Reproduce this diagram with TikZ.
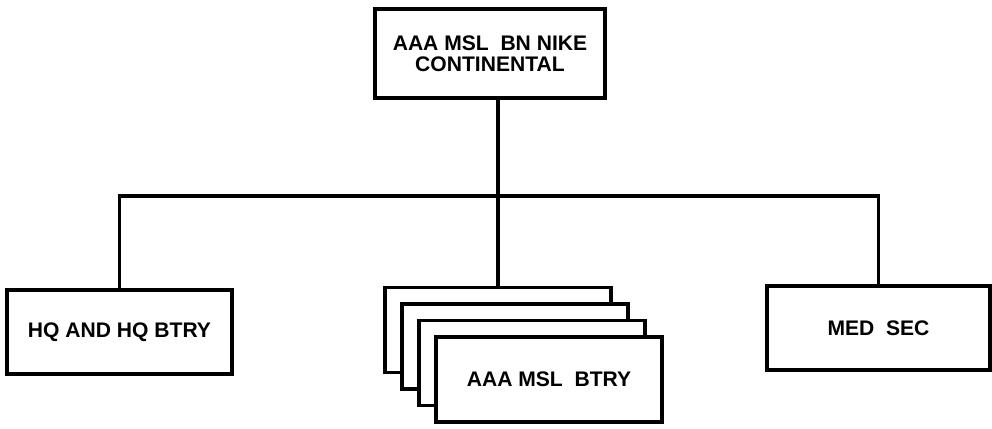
\documentclass[tikz,border=0pt]{standalone}
\usepackage{fontspec}
\setmainfont{Liberation Sans}
\usetikzlibrary{positioning, calc}
\tikzset{%
	unit/.style={draw, rectangle, fill=white, line width=1.8pt, align=center,%
		inner sep=0mm, minimum width=4.5cm, minimum height=1.7cm,%
		font=\fontsize{12}{12}\selectfont\bfseries},
	connector/.style={line width=1.9pt}
}

\begin{document}
\begin{tikzpicture}[x=0.02cm, y=-0.02cm]
	\useasboundingbox (0,0) rectangle (992,429);
	\node[unit, minimum width=4.6cm, minimum height=1.78cm] (bn) at (490,53.5) {AAA MSL\ \ BN NIKE\\CONTINENTAL};
	\node[unit, minimum height=1.68cm] (hq) at (119.5,332) {HQ AND HQ BTRY};
	% stacked batteries, back to front
	\foreach \i in {1,2,3}
		\node[unit, minimum width=4.52cm] (btry\i) at (481+17*\i, 313.5+16.5*\i) {};
	\node[unit, minimum width=4.52cm] (btry4) at (549,379.5) {AAA MSL\ \ BTRY};
	\node[unit, minimum width=4.46cm, minimum height=1.68cm] (med) at (878.5,328) {MED\ \ SEC};
	\coordinate (bar) at (btry1.north |- 0,196);

	\draw[connector] (btry1.north |- bn.south) -- (btry1.north);
	\draw[connector] (hq.north) |- (bar) -| (med.north);
\end{tikzpicture}
\end{document}
